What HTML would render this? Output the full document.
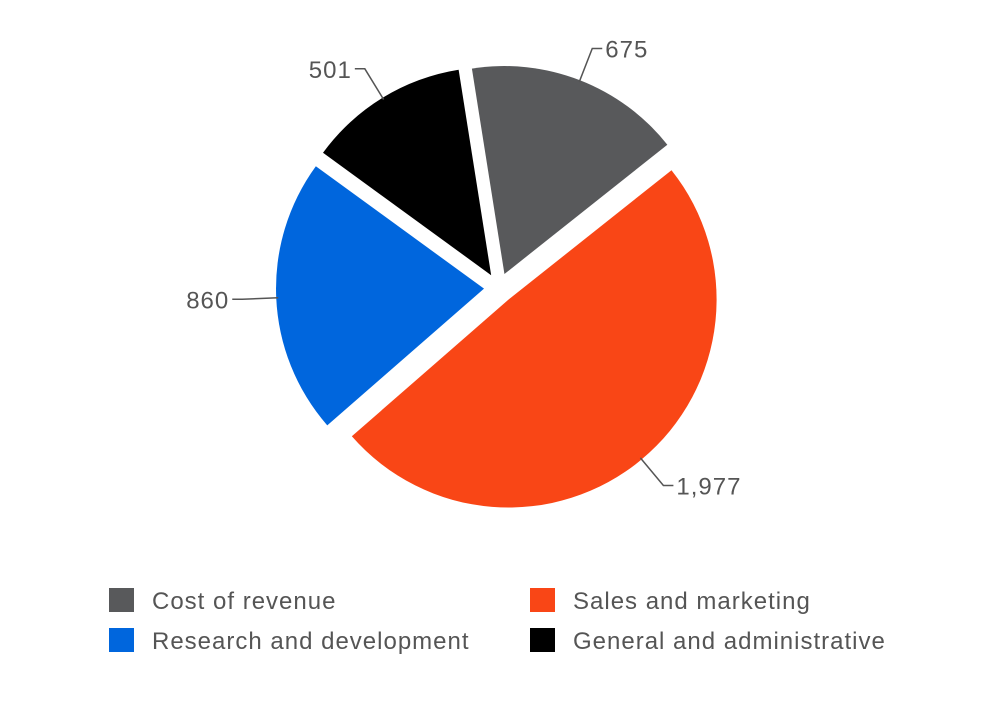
<!DOCTYPE html>
<html><head><meta charset="utf-8"><style>
body{margin:0;background:#fff;font-family:"Liberation Sans",sans-serif}
#c{width:1000px;height:700px;position:relative}
</style></head><body>
<div id="c">
<svg id="s" width="1000" height="700"></svg>
</div>
<script>
const categories=["Cost of revenue","Sales and marketing","Research and development","General and administrative"];
const values=[675,1977,860,501];
const labels=["675","1,977","860","501"];
const colors=["#58595b","#f94616","#0066dd","#000000"];
const NS="http://www.w3.org/2000/svg";
const s=document.getElementById('s');
const cx=499,cy=288,r=208,off=15,rot=-9;
const total=values.reduce((a,b)=>a+b,0);
function pt(a,rad,ox,oy){const t=a*Math.PI/180;return [ox+rad*Math.sin(t),oy-rad*Math.cos(t)];}
function mk(tag,at){const e=document.createElementNS(NS,tag);for(const k in at)e.setAttribute(k,at[k]);s.appendChild(e);return e;}
let a=rot;
values.forEach((v,i)=>{
  const sw=v/total*360,mid=a+sw/2;
  const [ox,oy]=pt(mid,off,cx,cy);
  const p0=pt(a,r,ox,oy),p1=pt(a+sw,r,ox,oy);
  const path=mk('path',{d:`M${ox},${oy}L${p0[0]},${p0[1]}A${r},${r} 0 ${sw>180?1:0} 1 ${p1[0]},${p1[1]}Z`,fill:colors[i]});
  
  
  const q1=pt(mid,r-2,ox,oy),q2=pt(mid,r+34,ox,oy);
  const right=Math.sin(mid*Math.PI/180)>=0;
  const x3=q2[0]+(right?10:-10);
  const ln=mk('polyline',{points:`${q1[0]},${q1[1]} ${q2[0]},${q2[1]} ${x3},${q2[1]}`,fill:'none',stroke:'#555','stroke-width':1.5});
  
  
  const tx=mk('text',{x:x3+(right?3:-3),y:q2[1]+9,'font-size':24,'letter-spacing':1,fill:'#555','text-anchor':right?'start':'end'});
  tx.textContent=labels[i];
  
  
  a+=sw;
});
const lx=[109,530],ly=[588,628];
categories.forEach((c,i)=>{
  const x=lx[i%2],y=ly[Math.floor(i/2)];
  const g=mk('g',{});
  
  
  const rc=document.createElementNS(NS,'rect');
  rc.setAttribute('x',x);rc.setAttribute('y',y);rc.setAttribute('width',25);rc.setAttribute('height',24);rc.setAttribute('fill',colors[i]);
  
  
  g.appendChild(rc);
  const t=document.createElementNS(NS,'text');
  t.setAttribute('x',x+43);t.setAttribute('y',y+21);t.setAttribute('font-size',24);t.setAttribute('letter-spacing',1);t.setAttribute('fill','#555');
  t.textContent=c;
  
  
  g.appendChild(t);
});
</script>
</body></html>
